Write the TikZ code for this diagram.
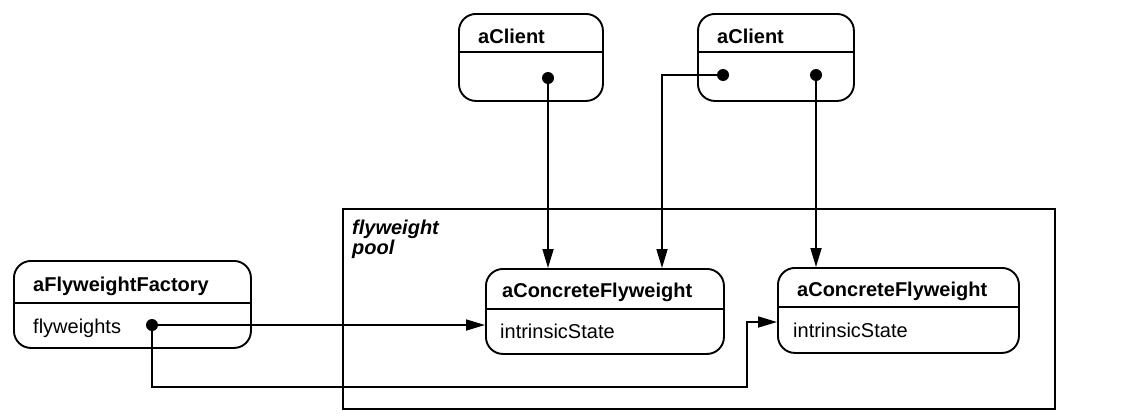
\documentclass[tikz,border=0pt]{standalone}
\usepackage{fontspec}
\setmainfont{Liberation Sans}
\usetikzlibrary{arrows.meta}
\begin{document}
\begin{tikzpicture}[x=1pt,y=-1pt,
  obj/.style={draw, line width=1.9pt, rounded corners=17pt, inner sep=0pt, anchor=north west},
  sep/.style={line width=1.6pt},
  title/.style={anchor=base west, inner sep=0pt, font=\fontsize{20}{22}\selectfont\bfseries},
  attr/.style={anchor=base west, inner sep=0pt, font=\fontsize{20}{22}\selectfont},
  dot/.style={circle, fill, inner sep=0pt, minimum size=12pt},
  arr/.style={line width=1.7pt, -{Triangle[length=19pt,width=11pt]}},
  ln/.style={line width=1.7pt}]
\useasboundingbox (0,0) rectangle (1126,418);
% pool
\node[draw, line width=1.9pt, inner sep=0pt, anchor=north west, minimum width=712pt, minimum height=200pt] (pool) at (342,208) {};
\node[anchor=north west, align=left, inner sep=0pt, font=\fontsize{20}{20}\selectfont\bfseries\itshape] (pl) at (352,220) {flyweight\\pool};
% clients
\node[obj, minimum width=144pt, minimum height=87pt] (c1) at (458,13) {};
\draw[sep] (c1.west |- 0,52) -- (c1.east |- 0,52);
\node[title] (c1t) at (478,43) {aClient};
\node[obj, minimum width=156pt, minimum height=87pt] (c2) at (697,13) {};
\draw[sep] (c2.west |- 0,52) -- (c2.east |- 0,52);
\node[title] (c2t) at (717,43) {aClient};
% flyweights
\node[obj, minimum width=238pt, minimum height=85pt] (cf1) at (485,268) {};
\draw[sep] (cf1.west |- 0,309) -- (cf1.east |- 0,309);
\node[title] (cf1t) at (502,297) {aConcreteFlyweight};
\node[attr] (cf1a) at (500,338) {intrinsicState};
\node[obj, minimum width=241pt, minimum height=85pt] (cf2) at (777,267) {};
\draw[sep] (cf2.west |- 0,307) -- (cf2.east |- 0,307);
\node[title] (cf2t) at (797,296) {aConcreteFlyweight};
\node[attr] (cf2a) at (793,337) {intrinsicState};
% factory
\node[obj, minimum width=237pt, minimum height=87pt] (fac) at (13,260) {};
\draw[sep] (fac.west |- 0,303) -- (fac.east |- 0,303);
\node[title] (fact) at (33,291) {aFlyweightFactory};
\node[attr] (faca) at (33,333) {flyweights};
% dots
\node[dot] (d1) at (548,78) {};
\node[dot] (d2) at (723,75) {};
\node[dot] (d3) at (816,75) {};
\node[dot] (df) at (152,325) {};
% bends
\coordinate (k1) at (662,75);
\coordinate (k2) at (747,387);
\coordinate (k3) at (747,322);
% connectors
\draw[arr] (d1.center) -- (d1.center |- cf1.north);
\draw[arr] (d2.center) -- (k1) -- (k1 |- cf1.north);
\draw[arr] (d3.center) -- (d3.center |- cf2.north);
\draw[arr] (df.center) -- (df.center -| cf1.west);
\draw[arr] (df.center) -- (df.center |- k2) -- (k2) -- (k3) -- (k3 -| cf2.west);
\end{tikzpicture}
\end{document}
